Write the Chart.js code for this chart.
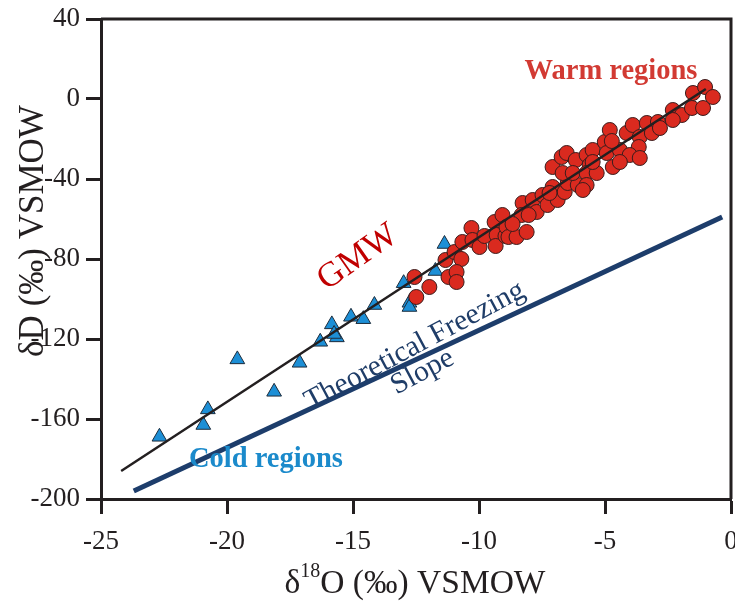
<!DOCTYPE html>
<html>
<head>
<meta charset="utf-8">
<script src="https://cdn.jsdelivr.net/npm/chart.js@4.4.1/dist/chart.umd.min.js"></script>
<style>
    html, body { margin: 0; padding: 0; background: #fff; }
    #wrap { width: 735px; height: 602px; }
</style>
</head>
<body>
<div id="wrap"><canvas id="isoChart" width="735" height="602"></canvas></div>
<script>
// values, all in permil VSMOW
const warmO18 = [-12.56, -11.97, -12.49, -11.33, -10.97, -10.70, -11.21, -10.89, -10.89, -10.66,
    -10.30, -10.26, -9.98, -9.78, -9.38, -9.30, -9.34, -9.07, -8.95, -8.91,
    -8.83, -8.51, -8.11, -8.27, -8.31, -7.87, -7.71, -7.48, -7.28, -7.08,
    -6.88, -6.60, -6.48, -6.08, -7.08, -6.72, -6.52, -6.68, -6.16, -6.28,
    -5.73, -5.49, -5.61, -5.73, -5.33, -5.73, -5.49, -5.01, -4.81, -4.93,
    -4.69, -4.41, -4.14, -3.90, -3.62, -3.66, -4.02, -3.62, -3.34, -3.14,
    -2.90, -5.88, -2.82, -2.31, -1.95, -2.31, -1.55, -1.11, -1.51, -1.03, -0.72,
    -8.67, -8.03, -7.20, -4.41, -4.73];
const warmD = [-89.0, -94.0, -99.0, -80.5, -76.5, -80.0, -89.0, -86.5, -91.5, -71.5,
    -64.5, -70.5, -74.0, -68.5, -61.5, -68.0, -73.5, -58.0, -68.5, -64.0,
    -69.0, -69.0, -66.5, -52.0, -58.0, -50.5, -56.5, -48.0, -53.0, -44.0,
    -50.5, -46.5, -42.0, -43.0, -34.0, -29.0, -27.0, -37.0, -30.5, -37.0,
    -28.0, -25.5, -33.0, -37.0, -37.0, -43.0, -31.5, -21.5, -15.5, -27.0,
    -34.0, -25.5, -17.0, -13.0, -19.0, -24.0, -28.0, -29.5, -12.0, -17.0,
    -11.5, -45.5, -14.5, -5.5, -8.0, -10.5, -4.5, -4.5, 3.0, 6.0, 1.0,
    -62.5, -58.0, -47.0, -31.5, -21.0];

const coldO18 = [-22.68, -20.76, -20.94, -19.59, -18.13, -17.12, -16.30, -15.84, -15.64, -15.75,
    -15.08, -14.59, -14.15, -12.99, -12.76, -12.76, -11.73, -11.37];
const coldD = [-168.9, -155.2, -163.0, -130.2, -146.4, -131.9, -121.4, -112.7, -119.2, -117.5,
    -108.9, -110.1, -103.0, -92.1, -101.9, -104.0, -86.0, -72.5];

// global meteoric water line and the theoretical freezing slope
const gmwO18 = [-24.2, -1.0];
const gmwD = [-186, 5];
const freezeO18 = [-23.7, -0.35];
const freezeD = [-196, -59];

const xTicks = [-25, -20, -15, -10, -5, 0];
const yTicks = [-200, -160, -120, -80, -40, 0, 40];

const ink = '#231f20';
const serif = "'Liberation Serif', 'Times New Roman', serif";

function toPoints(xs, ys) {
    return xs.map((x, i) => ({x: x, y: ys[i]}));
}

// frame, axis titles and the text notes
const decorPlugin = {
    id: 'decor',
    afterDatasetsDraw(chart) {
        let ctx = chart.ctx;
        let sx = chart.scales.x, sy = chart.scales.y;
        let area = chart.chartArea;

        ctx.save();
        ctx.strokeStyle = ink;
        ctx.lineWidth = 3;
        ctx.beginPath();
        ctx.moveTo(area.left, area.top);
        ctx.lineTo(area.right, area.top);
        ctx.lineTo(area.right, area.bottom);
        ctx.stroke();

        function note(text, x, y, font, color, angle, align) {
            ctx.save();
            ctx.translate(sx.getPixelForValue(x), sy.getPixelForValue(y));
            ctx.rotate(angle * Math.PI / 180);
            ctx.font = font;
            ctx.fillStyle = color;
            ctx.textAlign = align;
            ctx.textBaseline = 'alphabetic';
            ctx.fillText(text, 0, 0);
            ctx.restore();
        }

        note('Warm regions', -8.19, 10, 'bold 28.5px ' + serif, '#d23a33', 0, 'left');
        note('Cold regions', -21.51, -184, 'bold 28.5px ' + serif, '#1b8acb', 0, 'left');
        note('GMW', -14.6, -83, '35px ' + serif, '#c00000', -35, 'center');
        note('Theoretical Freezing', -12.4, -127, '29.5px ' + serif, '#1f3d68', -28, 'center');
        note('Slope', -12.1, -140, '29.5px ' + serif, '#1f3d68', -28, 'center');

        // x title with superscript
        ctx.fillStyle = ink;
        ctx.textBaseline = 'alphabetic';
        ctx.textAlign = 'left';
        let big = '33.5px ' + serif, small = '20px ' + serif;
        ctx.font = big;
        let w1 = ctx.measureText('\u03b4').width;
        let w3 = ctx.measureText('O (\u2030) VSMOW').width;
        ctx.font = small;
        let w2 = ctx.measureText('18').width;
        let x0 = 415 - (w1 + w2 + w3) / 2;
        ctx.font = big;
        ctx.fillText('\u03b4', x0, 593);
        ctx.font = small;
        ctx.fillText('18', x0 + w1, 577);
        ctx.font = big;
        ctx.fillText('O (\u2030) VSMOW', x0 + w1 + w2, 593);

        // y title
        ctx.save();
        ctx.translate(43, 231);
        ctx.rotate(-Math.PI / 2);
        ctx.textAlign = 'center';
        ctx.font = '35px ' + serif;
        ctx.fillText('\u03b4D (\u2030) VSMOW', 0, 0);
        ctx.restore();

        ctx.restore();
    }
};

let ctxIso = document.getElementById('isoChart').getContext('2d');

let isoChart = new Chart(ctxIso, {
    type: 'scatter',
    data: {
        datasets: [{
            label: 'GMW',
            data: toPoints(gmwO18, gmwD),
            showLine: true,
            borderColor: ink,
            borderWidth: 2.5,
            pointRadius: 0
        }, {
            label: 'Warm regions',
            data: toPoints(warmO18, warmD),
            pointStyle: 'circle',
            pointRadius: 7.5,
            backgroundColor: '#da2a1f',
            borderColor: '#3a1c1c',
            borderWidth: 1
        }, {
            label: 'Cold regions',
            data: toPoints(coldO18, coldD),
            pointStyle: 'triangle',
            pointRadius: 8.5,
            backgroundColor: '#1d8fd6',
            borderColor: '#1c2c3c',
            borderWidth: 1
        }, {
            label: 'Theoretical Freezing Slope',
            data: toPoints(freezeO18, freezeD),
            showLine: true,
            borderColor: '#1d3d6b',
            borderWidth: 5,
            pointRadius: 0
        }]
    },
    options: {
        responsive: false,
        animation: false,
        layout: {autoPadding: false, padding: {left: 0, right: 4, top: 19, bottom: 0}},
        plugins: {legend: {display: false}, tooltip: {enabled: false}},
        scales: {
            x: {
                type: 'linear',
                min: -25, max: 0,
                afterBuildTicks: s => { s.ticks = xTicks.map(v => ({value: v})); },
                afterFit: s => {
                    s.height = 103;
                    s.paddingLeft = 0;
                    s.paddingRight = 0;
                },
                grid: {drawOnChartArea: false, tickLength: 15, tickWidth: 3, tickColor: ink},
                border: {color: ink, width: 3},
                ticks: {color: ink, font: {family: serif, size: 27}, padding: 12, maxRotation: 0}
            },
            y: {
                type: 'linear',
                min: -200, max: 40,
                afterBuildTicks: s => { s.ticks = yTicks.map(v => ({value: v})); },
                afterFit: s => {
                    s.width = 101;
                    s.paddingTop = 0;
                    s.paddingBottom = 0;
                },
                grid: {drawOnChartArea: false, tickLength: 15, tickWidth: 3, tickColor: ink},
                border: {color: ink, width: 3},
                ticks: {color: ink, font: {family: serif, size: 27}, padding: 6}
            }
        }
    },
    plugins: [decorPlugin]
});
</script>
</body>
</html>
